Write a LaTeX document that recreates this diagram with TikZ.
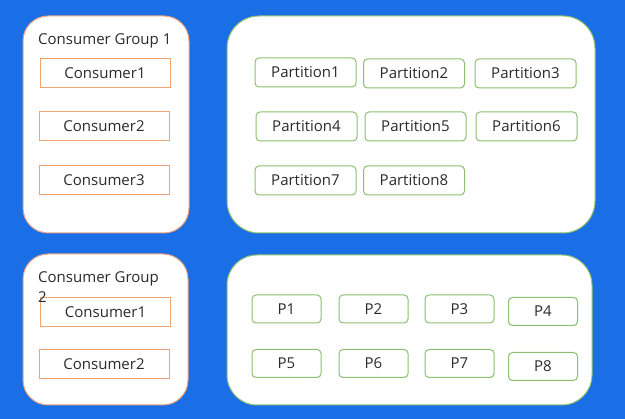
\documentclass[tikz,border=0pt]{standalone}
\usepackage{fontspec}
\setmainfont{Open Sans}
\usepackage{tikz}
\usepackage{xcolor}
\usetikzlibrary{positioning,calc}

\definecolor{bgblue}{HTML}{1A6EE6}
\definecolor{consborder}{HTML}{F2A46E}
\definecolor{partborder}{HTML}{8DBF6E}
\definecolor{groupborder}{HTML}{E8A07E}
\definecolor{textgray}{HTML}{2B2B2B}

\tikzset{
  group/.style={draw=groupborder,fill=white,line width=1pt,rectangle,rounded corners=25pt,inner sep=0pt},
  partgroup/.style={draw=partborder,fill=white,line width=1pt,rectangle,rounded corners=32pt,inner sep=0pt},
  consumer/.style={draw=consborder,fill=white,line width=1pt,rectangle,minimum width=130pt,minimum height=29pt,inner sep=0pt,text=textgray},
  partition/.style={draw=partborder,fill=white,line width=1pt,rectangle,rounded corners=4pt,minimum width=101pt,minimum height=29pt,inner sep=0pt,text=textgray},
  smallpart/.style={partition,minimum width=69pt,minimum height=28pt}
}

\begin{document}
\begin{tikzpicture}[x=1pt,y=-1pt,font=\fontsize{15}{20}\selectfont]
    \fill[bgblue] (0,0) rectangle (625,419);
    \useasboundingbox (0,0) rectangle (625,419);

    % consumer group 1 and its partitions
    \node[group,minimum width=166pt,minimum height=217pt] (grp1) at (106,124.5) {};
    \node[anchor=west,inner sep=0pt,text=textgray] (grp1title) at (38,41) {Consumer Group 1};
    \node[consumer] (g1c1) at (105,73.5) {Consumer1};
    \node[consumer] (g1c2) at (104,126.5) {Consumer2};
    \node[consumer] (g1c3) at (104,180) {Consumer3};

    \node[partgroup,minimum width=368pt,minimum height=217pt] (topic1) at (411,124.5) {};
    \node[partition] (part1) at (305.5,72.5) {Partition1};
    \node[partition] (part2) at (414,73.5) {Partition2};
    \node[partition] (part3) at (525.5,73.5) {Partition3};
    \node[partition] (part4) at (306.5,126.5) {Partition4};
    \node[partition] (part5) at (415.5,126.5) {Partition5};
    \node[partition] (part6) at (526.5,126.5) {Partition6};
    \node[partition] (part7) at (305.5,180.5) {Partition7};
    \node[partition] (part8) at (414,180.5) {Partition8};

    % consumer group 2 and its partitions
    \node[group,minimum width=165pt,minimum height=151pt] (grp2) at (105.5,329.5) {};
    \node[consumer] (g2c1) at (105.5,312) {Consumer1};
    \node[consumer] (g2c2) at (104,364) {Consumer2};
    \node[anchor=north west,inner sep=0pt,align=left,text=textgray] (grp2title) at (38,271) {Consumer Group\\2};

    \node[partgroup,rounded corners=30pt,minimum width=365pt,minimum height=150pt] (topic2) at (409.5,330) {};
    \node[smallpart] (p1) at (286.5,309) {P1};
    \node[smallpart] (p2) at (373.5,309) {P2};
    \node[smallpart] (p3) at (459.5,309) {P3};
    \node[smallpart] (p4) at (543,311.5) {P4};
    \node[smallpart] (p5) at (286.5,363.5) {P5};
    \node[smallpart] (p6) at (373.5,363.5) {P6};
    \node[smallpart] (p7) at (459.5,363.5) {P7};
    \node[smallpart] (p8) at (543,366.5) {P8};
\end{tikzpicture}
\end{document}
